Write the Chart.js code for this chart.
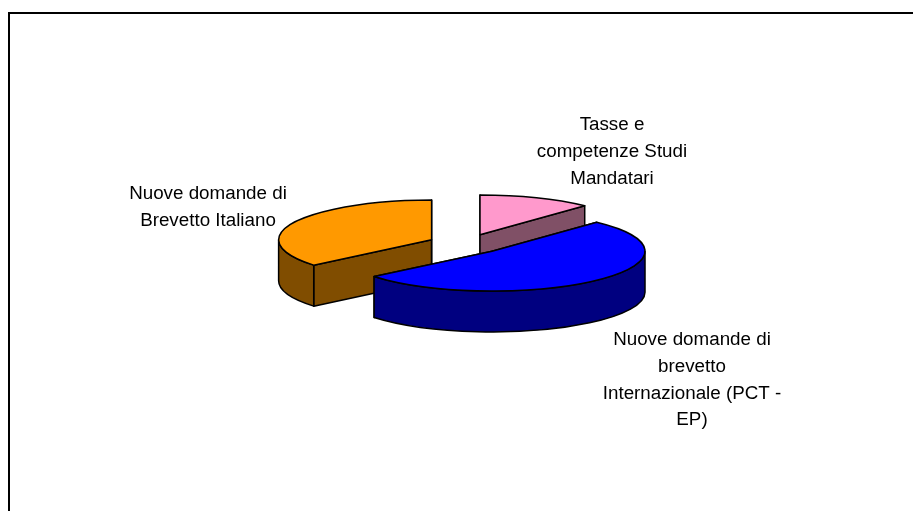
<!DOCTYPE html>
<html lang="it">
<head>
<meta charset="utf-8">
<title>Ripartizione costi brevetti</title>
<style>
  html, body { margin: 0; padding: 0; background: #fff; }
  #wrap { width: 913px; height: 511px; }
</style>
<script src="https://cdn.jsdelivr.net/npm/chart.js@4/dist/chart.umd.min.js"></script>
</head>
<body>
<div id="wrap"><canvas id="pie"></canvas></div>
<script>
// Dati (quote stimate, in %)
const categories = ["Tasse e competenze Studi Mandatari", "Nuove domande di brevetto Internazionale (PCT - EP)", "Nuove domande di Brevetto Italiano"];
const values = [12, 52, 36];
const topColors = ["#FF99CC", "#0000FF", "#FF9900"];
const wallColors = ["#805066", "#000080", "#804D00"];
// Righe delle etichette, come vanno a capo nell'originale
const labelLines = [
    ["Tasse e", "competenze Studi", "Mandatari"],
    ["Nuove domande di", "brevetto", "Internazionale (PCT -", "EP)"],
    ["Nuove domande di", "Brevetto Italiano"]
];
const labelPos = [[612, 125], [692, 340], [208, 194]];

// Aspetto della torta 3D
const pieCenter = { x: 466, y: 244 };
const squash = 0.26;
const depth = 41;
const explode = 38;
const pieRadius = 153;

// Centro a schermo e raggio di una fetta, presi dall'elemento della libreria
function sliceGeometry(arc) {
    const p = arc.getProps(["startAngle", "endAngle", "outerRadius"], true);
    const mid = (p.startAngle + p.endAngle) / 2;
    return {
        start: p.startAngle,
        end: p.endAngle,
        r: p.outerRadius,
        cx: pieCenter.x + Math.cos(mid) * explode,
        cy: pieCenter.y + Math.sin(mid) * explode * squash
    };
}

function rimPoint(g, angle) {
    return [g.cx + Math.cos(angle) * g.r, g.cy + Math.sin(angle) * g.r * squash];
}

function drawCutFace(ctx, g, angle) {
    const [x, y] = rimPoint(g, angle);
    ctx.beginPath();
    ctx.moveTo(g.cx, g.cy);
    ctx.lineTo(x, y);
    ctx.lineTo(x, y + depth);
    ctx.lineTo(g.cx, g.cy + depth);
    ctx.closePath();
    ctx.fill();
    ctx.stroke();
}

function drawRim(ctx, g) {
    const from = Math.max(g.start, 0);
    const to = Math.min(g.end, Math.PI);
    if (to <= from) return;
    ctx.beginPath();
    ctx.ellipse(g.cx, g.cy, g.r, g.r * squash, 0, from, to);
    ctx.ellipse(g.cx, g.cy + depth, g.r, g.r * squash, 0, to, from, true);
    ctx.closePath();
    ctx.fill();
    ctx.stroke();
}

const pie3d = {
    id: "pie3d",
    beforeDraw(chart) {
        // Cornice: solo lato alto e sinistro
        const ctx = chart.ctx;
        ctx.save();
        ctx.strokeStyle = "#000";
        ctx.lineWidth = 2;
        ctx.beginPath();
        ctx.moveTo(9, 511);
        ctx.lineTo(9, 13);
        ctx.lineTo(913, 13);
        ctx.stroke();
        ctx.restore();
    },
    beforeDatasetDraw(chart) {
        const ctx = chart.ctx;
        const arcs = chart.getDatasetMeta(0).data;
        ctx.save();
        ctx.strokeStyle = "#000";
        ctx.lineWidth = 1.5;
        ctx.lineJoin = "round";
        // Pareti dalla fetta piu' lontana alla piu' vicina
        [0, 2, 1].forEach(i => {
            const g = sliceGeometry(arcs[i]);
            ctx.fillStyle = wallColors[i];
            drawCutFace(ctx, g, g.start);
            drawCutFace(ctx, g, g.end);
            drawRim(ctx, g);
        });
        // Facce superiori: elementi di Chart.js, spostati e schiacciati
        arcs.forEach(arc => {
            const g = sliceGeometry(arc);
            ctx.save();
            ctx.translate(g.cx, g.cy);
            ctx.scale(1, squash);
            ctx.translate(-arc.x, -arc.y);
            arc.draw(ctx);
            ctx.restore();
            ctx.beginPath();
            ctx.moveTo(g.cx, g.cy);
            ctx.ellipse(g.cx, g.cy, g.r, g.r * squash, 0, g.start, g.end);
            ctx.closePath();
            ctx.stroke();
        });
        ctx.restore();
        return false;
    },
    afterDraw(chart) {
        const ctx = chart.ctx;
        ctx.save();
        ctx.fillStyle = "#000";
        ctx.font = "18.8px 'Liberation Sans', Arial, sans-serif";
        ctx.textAlign = "center";
        ctx.textBaseline = "middle";
        labelLines.forEach((lines, i) => {
            lines.forEach((line, n) => {
                ctx.fillText(line, labelPos[i][0], labelPos[i][1] + n * 26.7);
            });
        });
        ctx.restore();
    }
};

new Chart(document.getElementById("pie"), {
    type: "pie",
    data: {
        labels: categories,
        datasets: [{
            data: values,
            backgroundColor: topColors,
            borderWidth: 0,
            radius: pieRadius
        }]
    },
    options: {
        responsive: true,
        maintainAspectRatio: false,
        animation: false,
        plugins: {
            legend: { display: false },
            tooltip: { enabled: false }
        }
    },
    plugins: [pie3d]
});
</script>
</body>
</html>
